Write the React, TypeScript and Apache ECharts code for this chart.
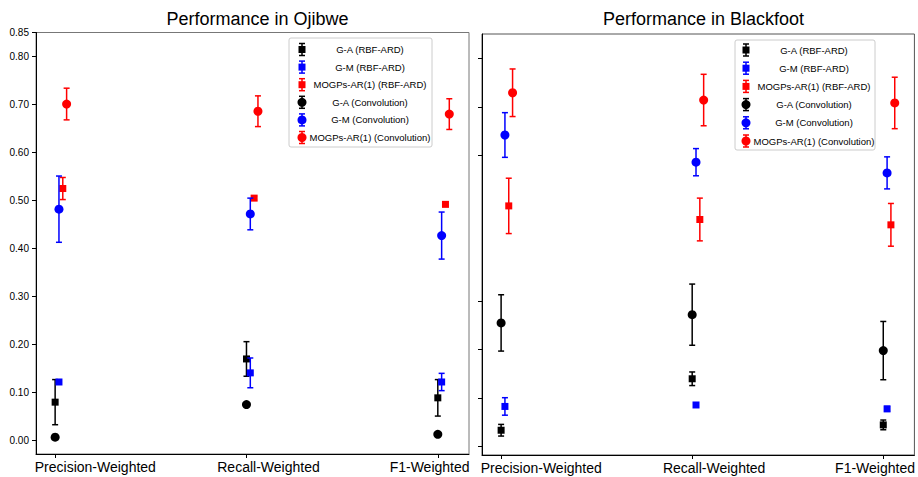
import React, { useEffect, useRef } from "react";
import * as echarts from "echarts";

const categories = ["Precision-Weighted", "Recall-Weighted", "F1-Weighted"];
const seriesNames = [
  "G-A (RBF-ARD)",
  "G-M (RBF-ARD)",
  "MOGPs-AR(1) (RBF-ARD)",
  "G-A (Convolution)",
  "G-M (Convolution)",
  "MOGPs-AR(1) (Convolution)",
];
const seriesColors = ["#000000", "#0000ff", "#ff0000", "#000000", "#0000ff", "#ff0000"];
const seriesSymbols = ["rect", "rect", "rect", "circle", "circle", "circle"];
const seriesOffsets = [0, 0.02, 0.04, 0, 0.02, 0.06];

// Ojibwe (left panel): means and half-widths of error bars
const ojGA_RBF = [0.08, 0.17, 0.089];
const ojGA_RBF_err = [0.047, 0.036, 0.038];
const ojGM_RBF = [0.122, 0.141, 0.122];
const ojGM_RBF_err = [0.004, 0.031, 0.018];
const ojMOGP_RBF = [0.525, 0.505, 0.492];
const ojMOGP_RBF_err = [0.023, 0.004, 0.0];
const ojGA_Conv = [0.007, 0.075, 0.013];
const ojGA_Conv_err = [0, 0, 0];
const ojGM_Conv = [0.482, 0.472, 0.427];
const ojGM_Conv_err = [0.069, 0.033, 0.049];
const ojMOGP_Conv = [0.701, 0.686, 0.68];
const ojMOGP_Conv_err = [0.033, 0.032, 0.032];

// Blackfoot (right panel)
const bfGA_RBF = [0.034, 0.14, 0.045];
const bfGA_RBF_err = [0.012, 0.014, 0.01];
const bfGM_RBF = [0.083, 0.086, 0.078];
const bfGM_RBF_err = [0.018, 0.004, 0.005];
const bfMOGP_RBF = [0.496, 0.468, 0.457];
const bfMOGP_RBF_err = [0.057, 0.044, 0.044];
const bfGA_Conv = [0.255, 0.272, 0.198];
const bfGA_Conv_err = [0.058, 0.063, 0.06];
const bfGM_Conv = [0.642, 0.586, 0.564];
const bfGM_Conv_err = [0.046, 0.028, 0.033];
const bfMOGP_Conv = [0.729, 0.714, 0.708];
const bfMOGP_Conv_err = [0.049, 0.053, 0.053];

const leftTicks = [0, 0.1, 0.2, 0.3, 0.4, 0.5, 0.6, 0.7, 0.8, 0.85];
const rightTicks = [0, 0.1, 0.2, 0.3, 0.6, 0.7, 0.8];
const xTickPos = [0, 1, 2];
const xLabelPos = [0.21, 1.115, 1.957];

const FONT = "Liberation Sans, Arial, sans-serif";

const ojMeans = [ojGA_RBF, ojGM_RBF, ojMOGP_RBF, ojGA_Conv, ojGM_Conv, ojMOGP_Conv];
const ojErrs = [ojGA_RBF_err, ojGM_RBF_err, ojMOGP_RBF_err, ojGA_Conv_err, ojGM_Conv_err, ojMOGP_Conv_err];
const bfMeans = [bfGA_RBF, bfGM_RBF, bfMOGP_RBF, bfGA_Conv, bfGM_Conv, bfMOGP_Conv];
const bfErrs = [bfGA_RBF_err, bfGM_RBF_err, bfMOGP_RBF_err, bfGA_Conv_err, bfGM_Conv_err, bfMOGP_Conv_err];

function buildSeries(means: number[][], errs: number[][], axisIndex: number) {
  const out: any[] = [];
  means.forEach((m, s) => {
    const color = seriesColors[s];
    const errData = m.map((v, i) => [i + seriesOffsets[s], v, v - errs[s][i], v + errs[s][i]]);
    out.push({
      type: "custom",
      name: seriesNames[s] + " err",
      xAxisIndex: axisIndex,
      yAxisIndex: axisIndex,
      data: errData,
      encode: { x: 0, y: [2, 3] },
      z: 2 + s,
      renderItem: (params: any, api: any) => {
        const x = api.value(0);
        const lo = api.value(2);
        const hi = api.value(3);
        if (hi - lo <= 0) return { type: "group", children: [] };
        const pLo = api.coord([x, lo]);
        const pHi = api.coord([x, hi]);
        const hw = 3;
        const st = { stroke: color, lineWidth: 1.5 };
        return {
          type: "group",
          children: [
            { type: "line", shape: { x1: pLo[0], y1: pLo[1], x2: pHi[0], y2: pHi[1] }, style: st },
            { type: "line", shape: { x1: pLo[0] - hw, y1: pLo[1], x2: pLo[0] + hw, y2: pLo[1] }, style: st },
            { type: "line", shape: { x1: pHi[0] - hw, y1: pHi[1], x2: pHi[0] + hw, y2: pHi[1] }, style: st },
          ],
        };
      },
    });
    out.push({
      type: "scatter",
      name: seriesNames[s],
      xAxisIndex: axisIndex,
      yAxisIndex: axisIndex,
      symbol: seriesSymbols[s],
      symbolSize: seriesSymbols[s] === "rect" ? 7 : 9,
      itemStyle: { color, opacity: 1 },
      z: 2 + s,
      data: m.map((v, i) => [i + seriesOffsets[s], v]),
    });
  });
  return out;
}

function legendGraphics(x: number, y: number, w: number, h: number, markerX: number, textX: number, row0: number, step: number) {
  const els: any[] = [
    {
      type: "rect",
      shape: { x, y, width: w, height: h, r: 2 },
      style: { fill: "rgba(255,255,255,0.85)", stroke: "#cccccc", lineWidth: 1 },
      z: 50,
    },
  ];
  seriesNames.forEach((name, i) => {
    const cy = row0 + i * step;
    const color = seriesColors[i];
    const st = { stroke: color, lineWidth: 1.5 };
    els.push({ type: "line", shape: { x1: markerX, y1: cy - 6, x2: markerX, y2: cy + 6 }, style: st, z: 51 });
    els.push({ type: "line", shape: { x1: markerX - 3, y1: cy - 6, x2: markerX + 3, y2: cy - 6 }, style: st, z: 51 });
    els.push({ type: "line", shape: { x1: markerX - 3, y1: cy + 6, x2: markerX + 3, y2: cy + 6 }, style: st, z: 51 });
    if (seriesSymbols[i] === "rect") {
      els.push({ type: "rect", shape: { x: markerX - 3.5, y: cy - 3.5, width: 7, height: 7 }, style: { fill: color }, z: 52 });
    } else {
      els.push({ type: "circle", shape: { cx: markerX, cy, r: 4.5 }, style: { fill: color }, z: 52 });
    }
    els.push({
      type: "text",
      x: textX,
      y: cy,
      style: { text: name, fill: "#000", font: "9.5px " + FONT, textAlign: "center", textVerticalAlign: "middle" },
      z: 52,
    });
  });
  return els;
}

function xAxisCfg(gridIndex: number) {
  return {
    type: "value",
    gridIndex,
    min: -0.1,
    max: 2.163,
    axisLine: { show: true, onZero: false, lineStyle: { color: "#000", width: 1 } },
    axisTick: { show: true, customValues: xTickPos, length: 4, lineStyle: { color: "#000" } },
    axisLabel: {
      customValues: xLabelPos,
      formatter: (v: number) => categories[Math.round(v)],
      fontSize: 14,
      fontFamily: FONT,
      color: "#000",
      margin: 6,
    },
    splitLine: { show: false },
  };
}

export default function App() {
  const ref = useRef<HTMLDivElement>(null);
  useEffect(() => {
    if (!ref.current) return;
    const chart = echarts.init(ref.current, null, { renderer: "svg" });
    chart.setOption({
      animation: false,
      backgroundColor: "#fff",
      textStyle: { fontFamily: FONT },
      title: [
        { text: "Performance in Ojibwe", left: 252.5, top: 5, textAlign: "center", textStyle: { fontSize: 18, fontWeight: "normal", color: "#000", fontFamily: FONT } },
        { text: "Performance in Blackfoot", left: 698.5, top: 5, textAlign: "center", textStyle: { fontSize: 18, fontWeight: "normal", color: "#000", fontFamily: FONT } },
      ],
      grid: [
        { left: 36, top: 32.5, width: 433, height: 421.5, show: true, borderColor: "#777", borderWidth: 1, backgroundColor: "transparent" },
        { left: 482, top: 34, width: 433, height: 421, show: true, borderColor: "#555", borderWidth: 1, backgroundColor: "transparent" },
      ],
      xAxis: [xAxisCfg(0), xAxisCfg(1)],
      yAxis: [
        {
          type: "value",
          gridIndex: 0,
          min: -0.028,
          max: 0.85,
          axisLine: { show: true, onZero: false, lineStyle: { color: "#000" } },
          axisTick: { show: true, customValues: leftTicks, length: 4, lineStyle: { color: "#000" } },
          axisLabel: {
            customValues: leftTicks,
            formatter: (v: number) => v.toFixed(2),
            fontSize: 10,
            fontFamily: FONT,
            color: "#000",
            margin: 7,
          },
          splitLine: { show: false },
        },
        {
          type: "value",
          gridIndex: 1,
          min: -0.017,
          max: 0.85,
          axisLine: { show: true, onZero: false, lineStyle: { color: "#000" } },
          axisTick: { show: true, customValues: rightTicks, length: 4, lineStyle: { color: "#000" } },
          axisLabel: { show: false },
          splitLine: { show: false },
        },
      ],
      series: [...buildSeries(ojMeans, ojErrs, 0), ...buildSeries(bfMeans, bfErrs, 1)],
      graphic: [
        ...legendGraphics(289, 38, 143, 109, 302, 370, 49.5, 17.6),
        ...legendGraphics(735, 40, 140, 110, 746, 814, 50, 18.2),
      ],
    });
    return () => chart.dispose();
  }, []);
  return <div ref={ref} style={{ position: "fixed", left: 0, top: 0, width: 918, height: 477 }} />;
}
